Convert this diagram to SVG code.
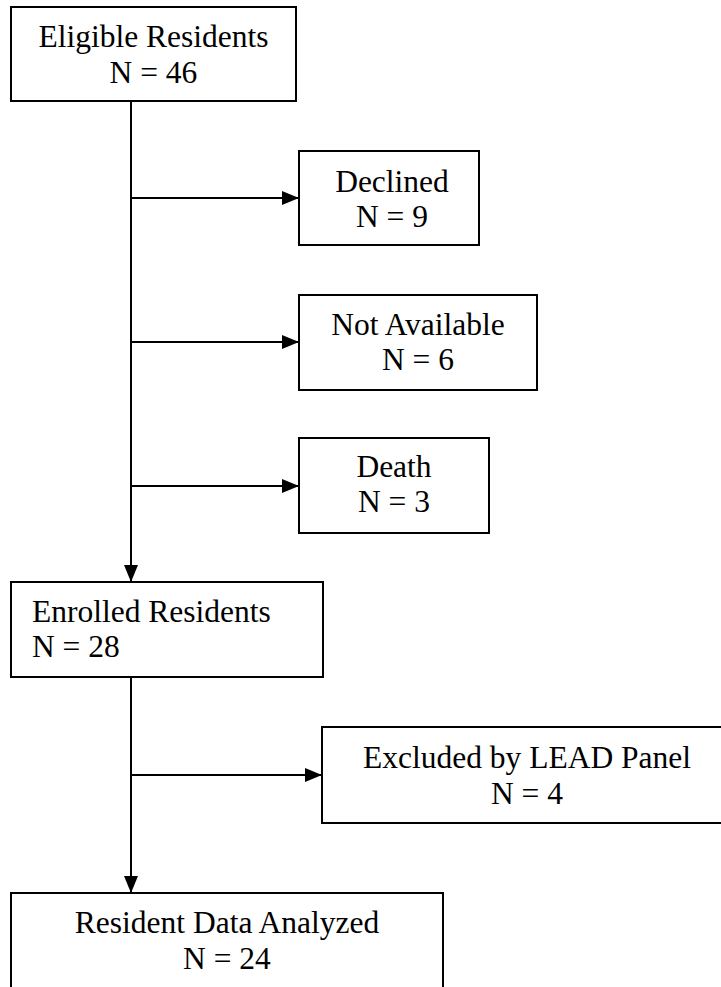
<svg xmlns="http://www.w3.org/2000/svg" width="721" height="987" viewBox="0 0 721 987">
<style>
.box{fill:#fff;stroke:#000;stroke-width:2}
.t{font-family:"Liberation Serif","Times New Roman",serif;font-size:31.5px;fill:#000}
.c{text-anchor:middle}
.ln{stroke:#000;stroke-width:2;fill:none}
</style>
<defs>
<marker id="ah" markerWidth="17" markerHeight="14" refX="17" refY="7" orient="auto" markerUnits="userSpaceOnUse" viewBox="0 0 17 14">
<path d="M0,0 L17,7 L0,14 Z" fill="#000"/>
</marker>
</defs>
<rect width="721" height="987" fill="#fff"/>
<g id="connectors">
<line class="ln" x1="131" y1="101" x2="131" y2="582" marker-end="url(#ah)"/>
<line class="ln" x1="131" y1="198" x2="299" y2="198" marker-end="url(#ah)"/>
<line class="ln" x1="131" y1="342" x2="299" y2="342" marker-end="url(#ah)"/>
<line class="ln" x1="131" y1="486" x2="299" y2="486" marker-end="url(#ah)"/>
<line class="ln" x1="131" y1="677" x2="131" y2="893" marker-end="url(#ah)"/>
<line class="ln" x1="131" y1="775" x2="322" y2="775" marker-end="url(#ah)"/>
</g>
<g id="eligible">
<rect class="box" x="11" y="7" width="285" height="94"/>
<text class="t c" x="153.5" y="47">Eligible Residents</text>
<text class="t c" x="153.5" y="83">N = 46</text>
</g>
<g id="declined">
<rect class="box" x="299" y="151" width="180" height="94"/>
<text class="t c" x="392" y="192">Declined</text>
<text class="t c" x="392" y="227">N = 9</text>
</g>
<g id="notavailable">
<rect class="box" x="299" y="295" width="238" height="95"/>
<text class="t c" x="418" y="335">Not Available</text>
<text class="t c" x="418" y="370">N = 6</text>
</g>
<g id="death">
<rect class="box" x="299" y="438" width="190" height="95"/>
<text class="t c" x="394" y="477">Death</text>
<text class="t c" x="394" y="512">N = 3</text>
</g>
<g id="enrolled">
<rect class="box" x="11" y="582" width="312" height="95"/>
<text class="t" x="32" y="622">Enrolled Residents</text>
<text class="t" x="32" y="657">N = 28</text>
</g>
<g id="excluded">
<rect class="box" x="322" y="727" width="412" height="96"/>
<text class="t c" x="527" y="768">Excluded by LEAD Panel</text>
<text class="t c" x="527" y="804">N = 4</text>
</g>
<g id="analyzed">
<rect class="box" x="11" y="893" width="432" height="110"/>
<text class="t c" x="227" y="933">Resident Data Analyzed</text>
<text class="t c" x="227" y="969">N = 24</text>
</g>
</svg>
